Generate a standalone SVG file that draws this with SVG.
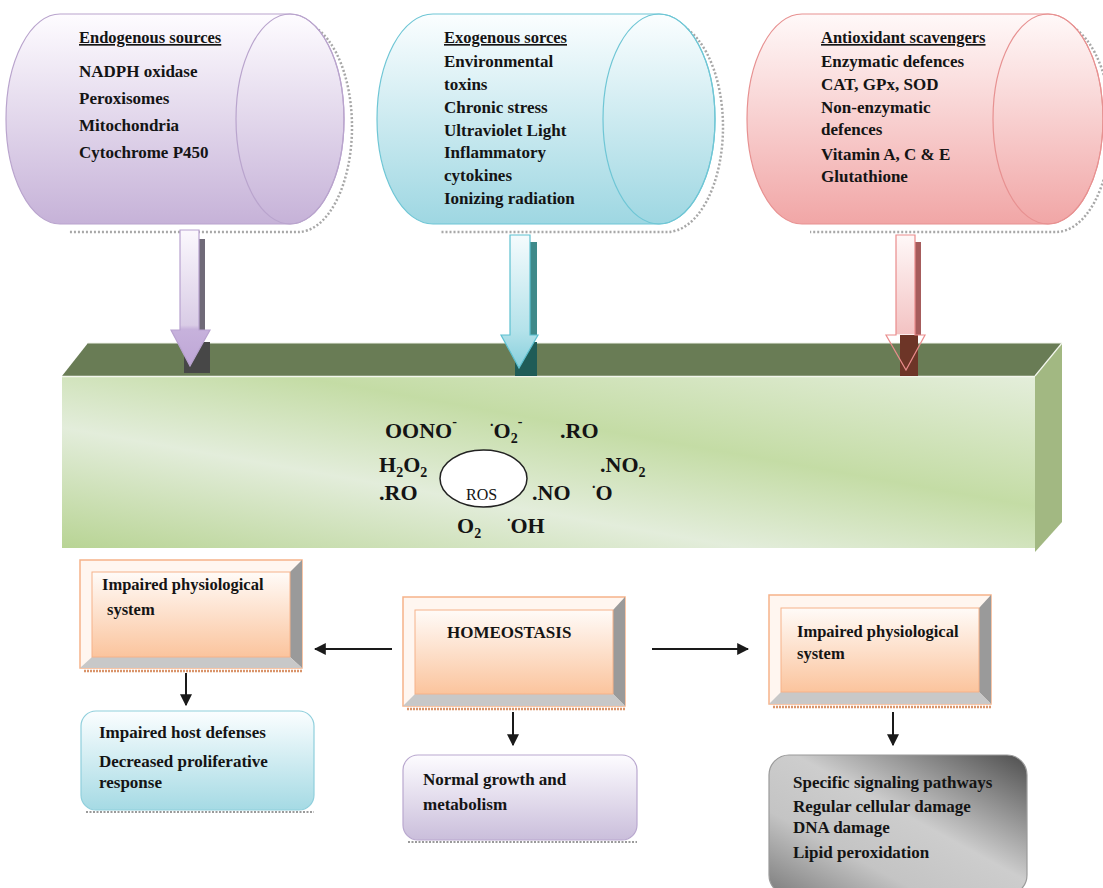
<svg xmlns="http://www.w3.org/2000/svg" width="1103" height="888" viewBox="0 0 1103 888">
<style>
.t{font-family:"Liberation Serif","Times New Roman",serif;font-weight:bold;fill:#141414;font-size:17px}
.ttl{font-size:16.5px;text-decoration:underline}
.ros{font-size:22px}
.sm{font-size:14px}
.shadowline{fill:none;stroke:#a8a8a8;stroke-width:2.5;stroke-dasharray:2 2}
.bev-outer{stroke:#f6b289;stroke-width:1.5}
.conn{stroke:#1a1a1a;stroke-width:2;fill:none}
</style>
<defs>
<linearGradient id="gPur" x1="0" y1="0" x2="0" y2="1"><stop offset="0" stop-color="#fefcff"/><stop offset="1" stop-color="#c6b2d8"/></linearGradient>
<linearGradient id="gCyn" x1="0" y1="0" x2="0" y2="1"><stop offset="0" stop-color="#fbfeff"/><stop offset="1" stop-color="#9ed7e2"/></linearGradient>
<linearGradient id="gRed" x1="0" y1="0" x2="0" y2="1"><stop offset="0" stop-color="#fff9f9"/><stop offset="1" stop-color="#f1a6a6"/></linearGradient>
<linearGradient id="aPur" gradientUnits="userSpaceOnUse" x1="0" y1="230" x2="0" y2="366"><stop offset="0" stop-color="#fbf8fd"/><stop offset="0.7" stop-color="#d9cce6"/><stop offset="0.73" stop-color="#c7b2dc"/><stop offset="1" stop-color="#bea6d6"/></linearGradient>
<linearGradient id="aCyn" gradientUnits="userSpaceOnUse" x1="0" y1="235" x2="0" y2="368"><stop offset="0" stop-color="#f5fbfd"/><stop offset="0.72" stop-color="#b4e2ea"/><stop offset="1" stop-color="#86cfdc"/></linearGradient>
<linearGradient id="aRed" gradientUnits="userSpaceOnUse" x1="0" y1="235" x2="0" y2="370"><stop offset="0" stop-color="#fff8f8"/><stop offset="0.73" stop-color="#f3c3c3"/><stop offset="0.74" stop-color="#f3c3c3" stop-opacity="0"/><stop offset="1" stop-color="#f3c3c3" stop-opacity="0"/></linearGradient>
<linearGradient id="gBar" x1="0" y1="1" x2="1" y2="0"><stop offset="0" stop-color="#b8d494"/><stop offset="0.35" stop-color="#e3eddb"/><stop offset="0.62" stop-color="#c4dca5"/><stop offset="1" stop-color="#e4eedb"/></linearGradient>
<linearGradient id="gPeach" x1="0" y1="0" x2="0" y2="1"><stop offset="0" stop-color="#fffbf8"/><stop offset="1" stop-color="#fbc49d"/></linearGradient>
<linearGradient id="gBlue" x1="0" y1="0" x2="0" y2="1"><stop offset="0" stop-color="#fbfeff"/><stop offset="1" stop-color="#a5dae4"/></linearGradient>
<linearGradient id="gLav" x1="0" y1="0" x2="0" y2="1"><stop offset="0" stop-color="#fdfcff"/><stop offset="1" stop-color="#cabedb"/></linearGradient>
<linearGradient id="gGray" x1="1" y1="0" x2="0" y2="1"><stop offset="0" stop-color="#4e4e4e"/><stop offset="0.45" stop-color="#cdcdcd"/><stop offset="0.7" stop-color="#c4c4c4"/><stop offset="1" stop-color="#7c7c7c"/></linearGradient>
<marker id="ah" viewBox="0 0 10 10" refX="9" refY="5" markerWidth="12" markerHeight="12" markerUnits="userSpaceOnUse" orient="auto"><path d="M0,0 L10,5 L0,10 z" fill="#1a1a1a"/></marker>
</defs>

<rect width="1103" height="888" fill="#ffffff"/>

<!-- Cylinders -->
<g id="endogenous">
<path class="shadowline" d="M68,22 L298,22 A54,105 0 0 1 298,232 L68,232"/>
<path d="M60,14 L290,14 A54,105 0 0 1 290,224 L60,224 A54,105 0 0 1 60,14 Z" fill="url(#gPur)" stroke="#b9a4cd" stroke-width="1.2"/>
<ellipse cx="290" cy="119" rx="54" ry="105" fill="none" stroke="#b9a4cd" stroke-width="1.2"/>
<text class="t ttl" x="79" y="43">Endogenous sources</text>
<text class="t" x="79" y="77">NADPH oxidase</text>
<text class="t" x="79" y="104">Peroxisomes</text>
<text class="t" x="79" y="131">Mitochondria</text>
<text class="t" x="79" y="158">Cytochrome P450</text>
</g>

<g id="exogenous">
<path class="shadowline" d="M441,22 L667,22 A56,105 0 0 1 667,232 L441,232"/>
<path d="M433,14 L659,14 A56,105 0 0 1 659,224 L433,224 A56,105 0 0 1 433,14 Z" fill="url(#gCyn)" stroke="#6fc6d5" stroke-width="1.2"/>
<ellipse cx="659" cy="119" rx="56" ry="105" fill="none" stroke="#6fc6d5" stroke-width="1.2"/>
<text class="t ttl" x="444" y="43">Exogenous sorces</text>
<text class="t" x="444" y="67">Environmental</text>
<text class="t" x="444" y="90">toxins</text>
<text class="t" x="444" y="113">Chronic stress</text>
<text class="t" x="444" y="136">Ultraviolet Light</text>
<text class="t" x="444" y="158">Inflammatory</text>
<text class="t" x="444" y="181">cytokines</text>
<text class="t" x="444" y="204">Ionizing radiation</text>
</g>

<g id="antioxidant">
<path class="shadowline" d="M810,22 L1056,22 A55,105 0 0 1 1056,232 L810,232"/>
<path d="M802,14 L1048,14 A55,105 0 0 1 1048,224 L802,224 A55,105 0 0 1 802,14 Z" fill="url(#gRed)" stroke="#e79191" stroke-width="1.2"/>
<ellipse cx="1048" cy="119" rx="55" ry="105" fill="none" stroke="#e79191" stroke-width="1.2"/>
<text class="t ttl" x="821" y="43">Antioxidant scavengers</text>
<text class="t" x="821" y="67">Enzymatic defences</text>
<text class="t" x="821" y="90">CAT, GPx, SOD</text>
<text class="t" x="821" y="113">Non-enzymatic</text>
<text class="t" x="821" y="135">defences</text>
<text class="t" x="821" y="160">Vitamin A, C &amp; E</text>
<text class="t" x="821" y="182">Glutathione</text>
</g>

<!-- ROS bar -->
<g id="ros-bar">
<polygon points="62,376 88,343 1062,343 1035,376" fill="#697c55"/>
<rect x="62" y="376" width="973" height="172" fill="url(#gBar)"/>
<polygon points="1035,376 1062,343 1062,522 1035,552" fill="#a2b882"/>
<line x1="62" y1="376.5" x2="1035" y2="376.5" stroke="#f2f6ec" stroke-width="1.5"/>
<line x1="1035" y1="376" x2="1062" y2="343" stroke="#f2f6ec" stroke-width="1.2"/>
<line x1="88" y1="343" x2="1062" y2="343" stroke="#eef2e8" stroke-width="1"/>
<ellipse cx="483.5" cy="478.5" rx="43.5" ry="28.5" fill="#ffffff" stroke="#222" stroke-width="1.5"/>
<text class="t" x="466" y="500" style="font-weight:normal;font-size:16px">ROS</text>
<text class="t ros" x="385" y="438">OONO<tspan class="sm" dy="-12">-</tspan></text>
<text class="t ros" x="490" y="438"><tspan class="sm" dy="-12">.</tspan><tspan dy="12">O</tspan><tspan class="sm" dy="5">2</tspan><tspan class="sm" dy="-17">-</tspan></text>
<text class="t ros" x="560" y="438">.RO</text>
<text class="t ros" x="379" y="472">H<tspan class="sm" dy="5">2</tspan><tspan dy="-5">O</tspan><tspan class="sm" dy="5">2</tspan></text>
<text class="t ros" x="600" y="472">.NO<tspan class="sm" dy="5">2</tspan></text>
<text class="t ros" x="379" y="500">.RO</text>
<text class="t ros" x="532" y="500">.NO</text>
<text class="t ros" x="592" y="500"><tspan class="sm" dy="-12">.</tspan><tspan dy="12">O</tspan></text>
<text class="t ros" x="457" y="533">O<tspan class="sm" dy="5">2</tspan></text>
<text class="t ros" x="507" y="533"><tspan class="sm" dy="-12">.</tspan><tspan dy="12">OH</tspan></text>
</g>

<!-- Block arrows from cylinders -->
<g id="block-arrows">
<rect x="199" y="239" width="6" height="92" fill="#706a78"/>
<rect x="184" y="342" width="26" height="31" fill="#474747"/>
<polygon points="180,230 199,230 199,330 210,330 190,366 171,330 180,330" fill="url(#aPur)" stroke="#b8a2cf" stroke-width="1.2"/>
<rect x="530" y="242" width="7" height="93" fill="#3f8a8a"/>
<rect x="515" y="342" width="22" height="34" fill="#1f5c57"/>
<polygon points="510,235 530,235 530,335 538,335 519,368 501,335 510,335" fill="url(#aCyn)" stroke="#5dc0d0" stroke-width="1.2"/>
<rect x="915" y="242" width="6" height="93" fill="#a65c5c"/>
<rect x="900" y="335" width="18" height="41" fill="#6d3527"/>
<polygon points="896,235 915,235 915,335 925,335 906,370 886,335 896,335" fill="url(#aRed)" stroke="#ea8c8c" stroke-width="1.2"/>
</g>

<!-- Bevel boxes -->
<g id="impaired-left">
<line x1="84" y1="671" x2="302" y2="671" stroke="#d9946a" stroke-width="2.5" stroke-dasharray="2 1"/>
<rect class="bev-outer" x="80" y="560" width="222" height="108" fill="#fff6f0"/>
<polygon points="302,560 302,668 290,657 290,572" fill="#9a9a9a"/>
<polygon points="80,668 302,668 290,657 92,657" fill="#c8c8c8"/>
<rect x="92" y="572" width="198" height="85" fill="url(#gPeach)" stroke="#f6b289" stroke-width="1"/>
<text class="t" x="102" y="590" style="font-size:16.5px">Impaired physiological</text>
<text class="t" x="107" y="615" style="font-size:16.5px">system</text>
</g>

<g id="homeostasis">
<line x1="407" y1="709" x2="625" y2="709" stroke="#d9946a" stroke-width="2.5" stroke-dasharray="2 1"/>
<rect class="bev-outer" x="403" y="597" width="222" height="109" fill="#fff6f0"/>
<polygon points="625,597 625,706 613,694 613,610" fill="#9a9a9a"/>
<polygon points="403,706 625,706 613,694 415,694" fill="#c8c8c8"/>
<rect x="415" y="610" width="198" height="84" fill="url(#gPeach)" stroke="#f6b289" stroke-width="1"/>
<text class="t" x="447" y="638">HOMEOSTASIS</text>
</g>

<g id="impaired-right">
<line x1="773" y1="707" x2="991" y2="707" stroke="#d9946a" stroke-width="2.5" stroke-dasharray="2 1"/>
<rect class="bev-outer" x="769" y="595" width="222" height="109" fill="#fff6f0"/>
<polygon points="991,595 991,704 979,692 979,608" fill="#9a9a9a"/>
<polygon points="769,704 991,704 979,692 781,692" fill="#c8c8c8"/>
<rect x="781" y="608" width="198" height="84" fill="url(#gPeach)" stroke="#f6b289" stroke-width="1"/>
<text class="t" x="797" y="637" style="font-size:16.5px">Impaired physiological</text>
<text class="t" x="797" y="659" style="font-size:16.5px">system</text>
</g>

<!-- Rounded result boxes -->
<g id="host-defenses">
<line x1="86" y1="812" x2="314" y2="812" stroke="#9a9a9a" stroke-width="2" stroke-dasharray="2 1.5"/>
<rect x="81" y="711" width="233" height="99" rx="15" fill="url(#gBlue)" stroke="#8fcfdc" stroke-width="1.2"/>
<text class="t" x="99" y="738">Impaired host defenses</text>
<text class="t" x="99" y="767">Decreased proliferative</text>
<text class="t" x="99" y="788">response</text>
</g>

<g id="normal-growth">
<line x1="408" y1="842" x2="637" y2="842" stroke="#9a9a9a" stroke-width="2" stroke-dasharray="2 1.5"/>
<rect x="403" y="755" width="234" height="85" rx="15" fill="url(#gLav)" stroke="#b9a8cf" stroke-width="1.2"/>
<text class="t" x="423" y="785">Normal growth and</text>
<text class="t" x="423" y="810">metabolism</text>
</g>

<g id="damage">
<rect x="769" y="755" width="258" height="140" rx="20" fill="url(#gGray)" stroke="#9a9a9a" stroke-width="1.2"/>
<text class="t" x="793" y="788">Specific signaling pathways</text>
<text class="t" x="793" y="812">Regular cellular damage</text>
<text class="t" x="793" y="833">DNA damage</text>
<text class="t" x="793" y="858">Lipid peroxidation</text>
</g>

<!-- Connectors -->
<g id="connectors">
<line class="conn" x1="392" y1="649" x2="315" y2="649" marker-end="url(#ah)"/>
<line class="conn" x1="652" y1="649" x2="748" y2="649" marker-end="url(#ah)"/>
<line class="conn" x1="186" y1="673" x2="186" y2="705" marker-end="url(#ah)"/>
<line class="conn" x1="513" y1="712" x2="513" y2="745" marker-end="url(#ah)"/>
<line class="conn" x1="893" y1="712" x2="893" y2="745" marker-end="url(#ah)"/>
</g>
</svg>
